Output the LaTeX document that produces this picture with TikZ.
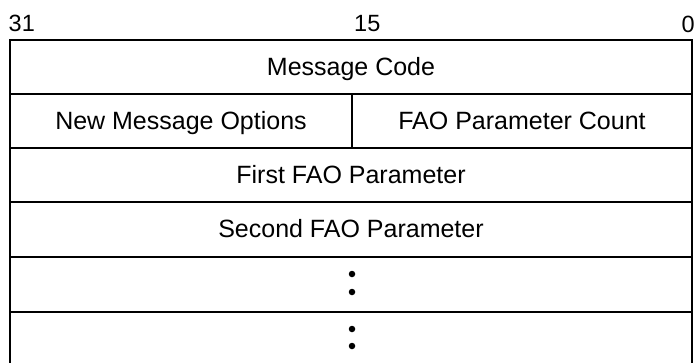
\documentclass[tikz,border=0pt]{standalone}
\usepackage{fontspec}
\setmainfont{Liberation Sans}
\begin{document}
\begin{tikzpicture}[x=1pt,y=-1pt,
  rule/.style={line width=2pt,line cap=rect},
  fieldtext/.style={font=\fontsize{25}{30}\selectfont,inner sep=0pt,anchor=base},
  bitlabel/.style={font=\fontsize{23.5}{28}\selectfont,inner sep=0pt,anchor=base west},
  dotmark/.style={circle,fill=black,inner sep=0pt,minimum size=6.5pt}]
\useasboundingbox (0,0) rectangle (694,362);
% bit labels
\node[bitlabel] (b31) at (8.5,31.5) {31};
\node[bitlabel] (b15) at (354,31) {15};
\node[bitlabel,anchor=base east] (b0) at (695,32) {0};
% frame
\draw[rule] (10,362) -- (10,40) -- (692,40) -- (692,362);
\draw[rule] (10,94) -- (692,94);
\draw[rule] (10,148) -- (692,148);
\draw[rule] (10,202) -- (692,202);
\draw[rule] (10,257) -- (692,257);
\draw[rule] (10,312) -- (692,312);
\draw[rule] (352,94) -- (352,148);
% texts
\node[fieldtext] (mc) at (351,75) {Message Code};
\node[fieldtext] (nmo) at (181,129) {New Message Options};
\node[fieldtext] (fpc) at (522,129) {FAO Parameter Count};
\node[fieldtext] (ffp) at (351,183) {First FAO Parameter};
\node[fieldtext] (sfp) at (351,237.5) {Second FAO Parameter};
% dots
\node[dotmark] (d1) at (352,274) {};
\node[dotmark] (d2) at (352,292) {};
\node[dotmark] (d3) at (352,329) {};
\node[dotmark] (d4) at (352,346) {};
\end{tikzpicture}
\end{document}
